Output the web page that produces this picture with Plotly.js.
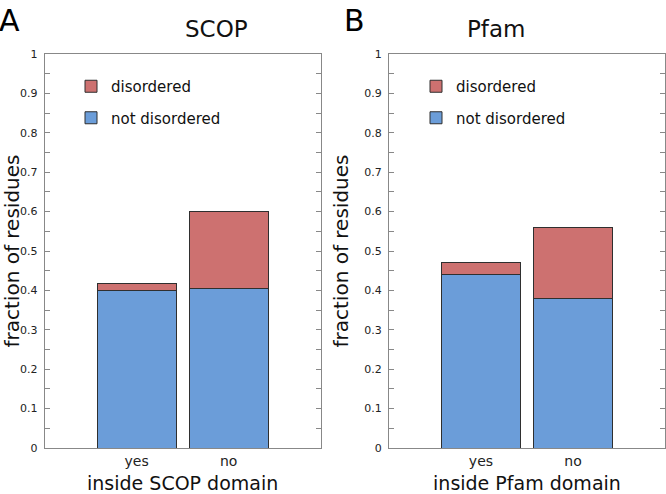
<!DOCTYPE html>
<html>
<head>
<meta charset="utf-8">
<script src="https://cdn.plot.ly/plotly-3.0.1.min.js"></script>
<style>
  body { margin: 0; padding: 0; background: #fff; }
  #fig { width: 666px; height: 494px; }
</style>
</head>
<body>
<div id="fig"></div>
<script>
// categories and values
var cats = ['yes', 'no'];
var scop_notdis = [0.400, 0.405];
var scop_dis = [0.017, 0.195];
var pfam_notdis = [0.440, 0.380];
var pfam_dis = [0.030, 0.180];

var red = '#cd7170';
var blue = '#6b9dd9';
var edge = '#2f2f2f';
var fnt = 'DejaVu Sans, sans-serif';

function barTrace(y, name, color, xa, ya, leg, rank) {
  return {
    type: 'bar', x: cats, y: y, name: name,
    xaxis: xa, yaxis: ya, legend: leg, legendgroup: name + leg, legendrank: rank,
    width: 0.86,
    marker: {color: color, line: {color: edge, width: 1}},
    hoverinfo: 'y'
  };
}

var data = [
  barTrace(scop_notdis, 'not disordered', blue, 'x', 'y', 'legend', 2),
  barTrace(scop_dis, 'disordered', red, 'x', 'y', 'legend', 1),
  barTrace(pfam_notdis, 'not disordered', blue, 'x2', 'y2', 'legend2', 2),
  barTrace(pfam_dis, 'disordered', red, 'x2', 'y2', 'legend2', 1)
];

function yax(anchor) {
  return {
    anchor: anchor, domain: [0, 1], range: [0, 1], dtick: 0.1,
    ticks: 'inside', ticklen: 5, tickcolor: '#888', mirror: 'ticks',
    minor: {dtick: 0.05, ticks: 'inside', ticklen: 5, tickcolor: '#888'},
    showline: true, linecolor: '#888', linewidth: 1,
    showgrid: false, zeroline: false,
    tickfont: {family: fnt, size: 11, color: '#222'},
    ticklabelstandoff: 4,
    title: {text: 'fraction of residues', font: {family: fnt, size: 20, color: '#111'}, standoff: 10}
  };
}
function xax(anchor, dom, title) {
  return {
    anchor: anchor, domain: dom, range: [-1, 2], type: 'category',
    categoryarray: cats, showline: true, linecolor: '#888', linewidth: 1,
    mirror: true, ticks: '', showgrid: false, zeroline: false,
    tickfont: {family: fnt, size: 14, color: '#222'},
    title: {text: title, font: {family: fnt, size: 19, color: '#111'}, standoff: 8}
  };
}
function leg(x) {
  return {
    x: x, y: 1 - 16 / 394, xref: 'paper', yref: 'paper', xanchor: 'left', yanchor: 'top',
    traceorder: 'grouped', tracegroupgap: 9, bgcolor: 'rgba(0,0,0,0)',
    font: {family: fnt, size: 15, color: '#111'}
  };
}

var dA = [0.067, 0.4815];
var dB = [0.584, 0.9985];

var layout = {
  width: 666, height: 494,
  margin: {l: 0, r: 0, t: 54, b: 46},
  paper_bgcolor: '#fff', plot_bgcolor: '#fff',
  barmode: 'stack',
  font: {family: fnt},
  xaxis: xax('y', dA, 'inside SCOP domain'),
  yaxis: yax('x'),
  xaxis2: xax('y2', dB, 'inside Pfam domain'),
  yaxis2: yax('x2'),
  legend: leg(71 / 666),
  legend2: leg(416 / 666),
  annotations: [
    {text: 'SCOP', x: (dA[0] + dA[1]) / 2, y: 1 + 25 / 394, xref: 'paper', yref: 'paper',
     yanchor: 'middle', showarrow: false, font: {family: fnt, size: 23, color: '#111'}},
    {text: 'Pfam', x: (dB[0] + dB[1]) / 2, y: 1 + 25 / 394, xref: 'paper', yref: 'paper',
     yanchor: 'middle', showarrow: false, font: {family: fnt, size: 23, color: '#111'}},
    {text: 'A', x: -0.005, y: 1 + 34 / 394, xref: 'paper', yref: 'paper', xanchor: 'left',
     yanchor: 'middle', showarrow: false, font: {family: fnt, size: 30, color: '#000'}},
    {text: 'B', x: 0.513, y: 1 + 34 / 394, xref: 'paper', yref: 'paper', xanchor: 'left',
     yanchor: 'middle', showarrow: false, font: {family: fnt, size: 30, color: '#000'}}
  ]
};

Plotly.newPlot('fig', data, layout, {displayModeBar: false});
</script>
</body>
</html>
